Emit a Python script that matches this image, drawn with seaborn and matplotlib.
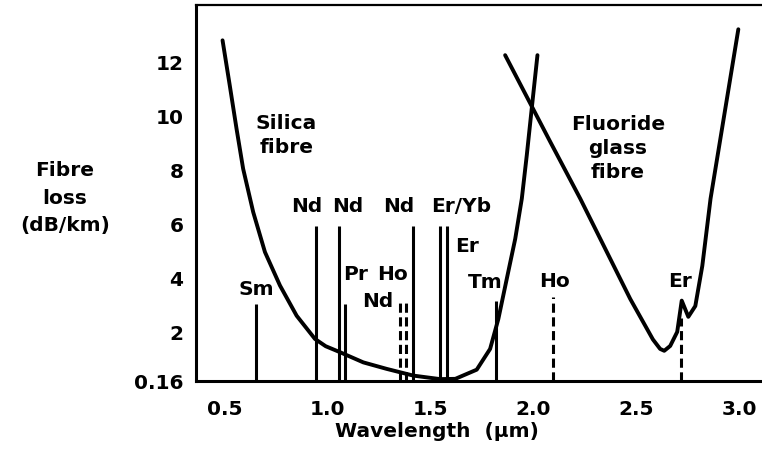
import matplotlib
matplotlib.use("Agg")
import matplotlib.pyplot as plt
import seaborn as sns
import pandas as pd

# ---- data ----
silica_x = [0.489, 0.524, 0.557, 0.589, 0.638, 0.695, 0.768, 0.849, 0.938, 0.99,
            1.059, 1.173, 1.286, 1.416, 1.546, 1.62, 1.724, 1.789, 1.829, 1.870,
            1.911, 1.943, 1.967, 1.992, 2.019]
silica_y = [12.79, 11.12, 9.51, 8.03, 6.42, 4.94, 3.70, 2.58, 1.72, 1.45,
            1.23, 0.85, 0.61, 0.36, 0.23, 0.24, 0.58, 1.35, 2.46, 3.95,
            5.43, 6.92, 8.52, 10.32, 12.24]

fluoride_x = [1.862, 2.081, 2.227, 2.47, 2.58, 2.615, 2.635, 2.664, 2.698, 2.72,
              2.752, 2.786, 2.82, 2.86, 2.995]
fluoride_y = [12.24, 9.03, 6.92, 3.2, 1.7, 1.35, 1.28, 1.46, 1.98, 3.14,
              2.54, 2.94, 4.43, 6.92, 13.2]

solid_lines_x = [0.65, 0.943, 1.054, 1.084, 1.414, 1.545, 1.578, 1.817]
solid_lines_top = [3.02, 5.9, 5.9, 3.02, 5.9, 5.9, 5.9, 3.13]

dashed_lines_x = [1.351, 1.380, 2.094, 2.716]
dashed_lines_top = [3.2, 3.2, 3.28, 2.5]

ion_labels = ["Sm", "Nd", "Nd", "Pr", "Ho", "Nd", "Nd", "Er/Yb", "Er", "Tm", "Ho", "Er"]
ion_label_x = [0.651, 0.899, 1.098, 1.137, 1.317, 1.244, 1.346, 1.648, 1.677, 1.765, 2.10, 2.71]
ion_label_y = [3.58, 6.66, 6.66, 4.13, 4.13, 3.13, 6.66, 6.66, 5.17, 3.84, 3.87, 3.87]

y_ticks = [0.16, 2, 4, 6, 8, 10, 12]
y_tick_labels = ["0.16", "2", "4", "6", "8", "10", "12"]
x_ticks = [0.5, 1.0, 1.5, 2.0, 2.5, 3.0]
x_tick_labels = ["0.5", "1.0", "1.5", "2.0", "2.5", "3.0"]

# ---- plotting ----
sns.set_style("white")
plt.rcParams["font.family"] = ["DejaVu Sans"]
plt.rcParams["font.weight"] = "bold"
plt.rcParams["text.color"] = "black"

fig = plt.figure(figsize=(7.62, 4.64), dpi=100)
ax = fig.add_axes([196 / 762, 1 - 382 / 464, 1 - 196 / 762, (382 - 6) / 464])

df_s = pd.DataFrame({"x": silica_x, "y": silica_y})
df_f = pd.DataFrame({"x": fluoride_x, "y": fluoride_y})
sns.lineplot(data=df_s, x="x", y="y", ax=ax, color="black", lw=2.8,
             sort=False, estimator=None)
sns.lineplot(data=df_f, x="x", y="y", ax=ax, color="black", lw=2.8,
             sort=False, estimator=None)

ybase = 0.16
ax.vlines(solid_lines_x, ybase, solid_lines_top, colors="black", lw=2.2)
ax.vlines(dashed_lines_x, ybase, dashed_lines_top, colors="black", lw=2.2,
          linestyles=(0, (3, 1.5)))

fs = 14.5
for lab, lx, ly in zip(ion_labels, ion_label_x, ion_label_y):
    ax.text(lx, ly, lab, ha="center", va="center", fontsize=fs,
            fontweight="bold", color="black")

ax.text(0.80, 9.29, "Silica\nfibre", ha="center", va="center", fontsize=fs,
        fontweight="bold", linespacing=1.3, color="black")
ax.text(2.41, 8.81, "Fluoride\nglass\nfibre", ha="center", va="center", fontsize=fs,
        fontweight="bold", linespacing=1.35, color="black")

ax.set_xlim(0.36, 3.11)
ax.set_ylim(0.16, 14.1)
ax.set_xticks(x_ticks)
ax.set_xticklabels(x_tick_labels)
ax.set_yticks(y_ticks)
ax.set_yticklabels(y_tick_labels)
ax.tick_params(axis="y", direction="in", length=7, width=2, pad=9,
               labelsize=fs, colors="black")
ax.tick_params(axis="x", direction="in", length=8, width=2, pad=13,
               labelsize=fs, colors="black")
for t in ax.get_xticklabels() + ax.get_yticklabels():
    t.set_fontweight("bold")
ax.set_xlabel("")
ax.set_ylabel("")

for side in ["left", "bottom"]:
    ax.spines[side].set_linewidth(2.2)
    ax.spines[side].set_color("black")
ax.spines["top"].set_linewidth(1.6)
ax.spines["top"].set_color("black")
ax.spines["right"].set_visible(False)

fig.text(437 / 762, 1 - 432 / 464, "Wavelength  (µm)", ha="center", va="center",
         fontsize=fs, fontweight="bold", color="black")
fig.text(65 / 762, 1 - 198 / 464, "Fibre\nloss\n(dB/km)", ha="center", va="center",
         fontsize=fs, fontweight="bold", linespacing=1.6, color="black")

fig.savefig("out.png", dpi=100, facecolor="white")
